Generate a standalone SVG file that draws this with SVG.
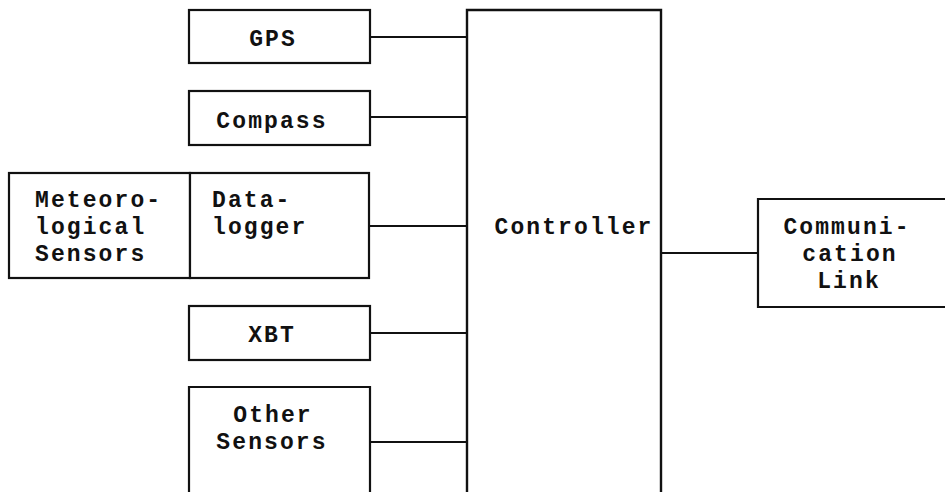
<svg xmlns="http://www.w3.org/2000/svg" width="946" height="492" viewBox="0 0 946 492">
<style>
.box{fill:#fff;stroke:#111;stroke-width:2.2}
.ln{stroke:#111;stroke-width:2;fill:none}
text{font-family:"Liberation Mono","Courier New",monospace;font-weight:bold;font-size:23px;letter-spacing:2.1px;fill:#111}
.c{text-anchor:middle}
</style>
<rect width="946" height="492" fill="#fff"/>
<g id="connectors">
<line class="ln" x1="370" y1="37" x2="467" y2="37"/>
<line class="ln" x1="370" y1="117" x2="467" y2="117"/>
<line class="ln" x1="369" y1="226" x2="467" y2="226"/>
<line class="ln" x1="370" y1="333" x2="467" y2="333"/>
<line class="ln" x1="370" y1="442" x2="467" y2="442"/>
<line class="ln" x1="661" y1="253" x2="758" y2="253"/>
</g>
<g id="gps">
<rect class="box" x="189" y="10" width="181" height="53"/>
<text class="c" x="273" y="46">GPS</text>
</g>
<g id="compass">
<rect class="box" x="189" y="91" width="181" height="54"/>
<text class="c" x="272" y="128">Compass</text>
</g>
<g id="meteorological-sensors">
<rect class="box" x="9" y="173" width="181" height="105"/>
<text x="35" y="207">Meteoro-</text>
<text x="35" y="234">logical</text>
<text x="35" y="261">Sensors</text>
</g>
<g id="datalogger">
<rect class="box" x="190" y="173" width="179" height="105"/>
<text x="212" y="207">Data-</text>
<text x="212" y="234">logger</text>
</g>
<g id="xbt">
<rect class="box" x="189" y="306" width="181" height="54"/>
<text class="c" x="272" y="342">XBT</text>
</g>
<g id="other-sensors">
<path class="ln" d="M189,493 V387 H370 V493" style="stroke-width:2.2"/>
<text class="c" x="273" y="422">Other</text>
<text class="c" x="272" y="449">Sensors</text>
</g>
<g id="controller">
<path class="ln" d="M467,493 V10 H661 V493" style="stroke-width:2.4"/>
<text class="c" x="574" y="234">Controller</text>
</g>
<g id="communication-link">
<path class="ln" d="M945,199 H758 V307 H945" style="stroke-width:2.2"/>
<text class="c" x="847" y="234">Communi-</text>
<text class="c" x="850" y="261">cation</text>
<text class="c" x="849" y="288">Link</text>
</g>
</svg>
